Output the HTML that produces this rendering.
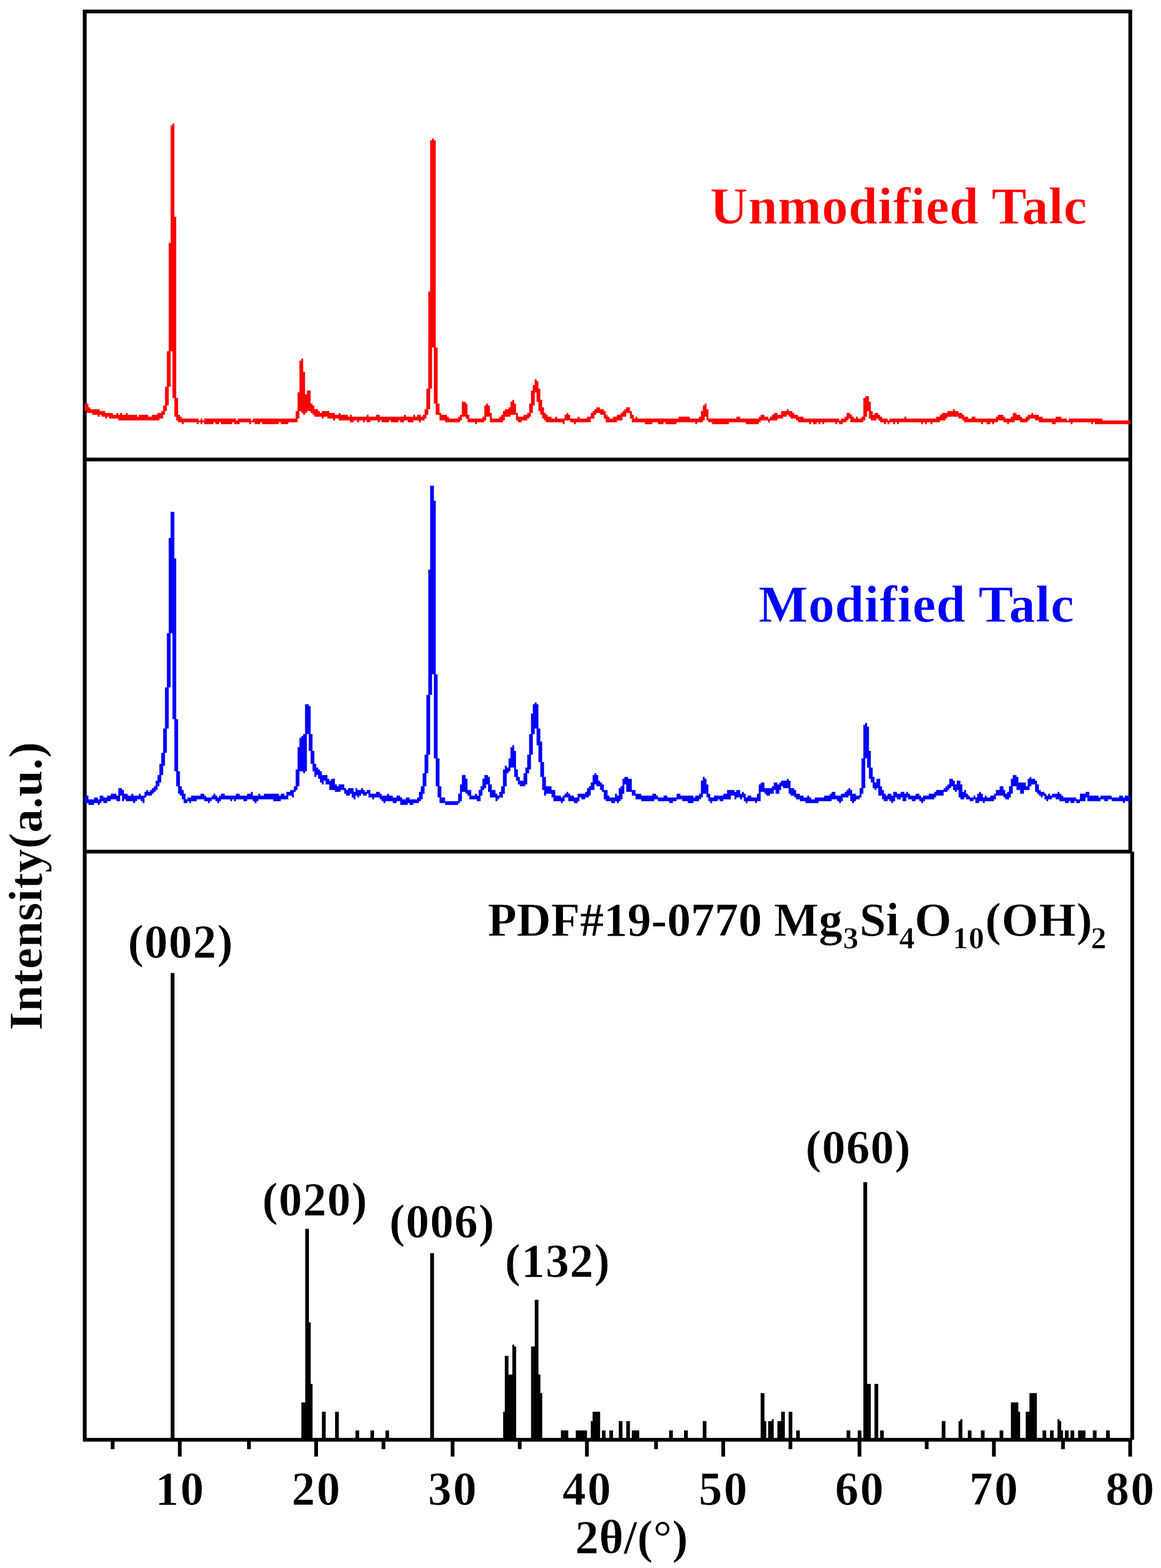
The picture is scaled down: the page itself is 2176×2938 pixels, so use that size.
<!DOCTYPE html>
<html><head><meta charset="utf-8"><title>XRD patterns of talc</title>
<style>
html,body{margin:0;padding:0;background:#fff}
svg{display:block}
text{font-family:"Liberation Serif",serif;font-weight:bold;stroke:#fff;stroke-width:0.7px;stroke-linejoin:round}
</style></head>
<body>
<svg width="2176" height="2938" viewBox="0 0 2176 2938">
<rect width="2176" height="2938" fill="#fff"/>
<path d="M155.26 17.98H2122V24.98H155.26ZM155.26 17.98H162.45V2701.33H155.26ZM2114.9 17.98H2122V1599.3H2114.9ZM155.26 857.62H2122V864.62H155.26ZM155.26 1592.31H2122V1599.3H155.26ZM2118.6 1595.8H2125.6V2697.83H2118.6ZM155.26 2694.33H2122V2701.33H155.26ZM207.6 2697.83H214.6V2715.32H207.6ZM333.5 2697.83H340.5V2729.32H333.5ZM463.1 2697.83H470.1V2715.32H463.1ZM589 2697.83H596V2729.32H589ZM715.2 2697.83H722.2V2715.32H715.2ZM844.7 2697.83H851.7V2729.32H844.7ZM970.6 2697.83H977.6V2715.32H970.6ZM1096.5 2697.83H1103.5V2729.32H1096.5ZM1226.1 2697.83H1233.1V2715.32H1226.1ZM1352 2697.83H1359V2729.32H1352ZM1477.9 2697.83H1484.9V2715.32H1477.9ZM1607.4 2697.83H1614.4V2729.32H1607.4ZM1733.4 2697.83H1740.4V2715.32H1733.4ZM1859.3 2697.83H1866.3V2729.32H1859.3ZM1988.8 2697.83H1995.8V2715.32H1988.8ZM2114.7 2697.83H2121.7V2729.32H2114.7Z" fill="#000"/>
<path d="M319.85 1823.21H326.95V2695.33H319.85ZM564.85 2627.86H572.25V2695.33H564.85ZM572.15 2302.5H578.95V2695.33H572.15ZM578.85 2477.43H582.35V2695.33H578.85ZM582.25 2592.88H585.75V2695.33H582.25ZM603.35 2645.35H610.45V2695.33H603.35ZM628.05 2645.35H634.95V2695.33H628.05ZM666.25 2680.34H673.15V2695.33H666.25ZM694.35 2680.34H701.05V2695.33H694.35ZM722.45 2680.34H729.15V2695.33H722.45ZM806.25 2347.98H813.35V2695.33H806.25ZM943.05 2645.35H946.25V2695.33H943.05ZM946.15 2540.4H953.05V2695.33H946.15ZM952.95 2575.38H960.35V2695.33H952.95ZM960.25 2519.41H963.75V2695.33H960.25ZM963.65 2522.91H967.35V2695.33H963.65ZM995.35 2522.91H1002.45V2695.33H995.35ZM1002.35 2435.44H1009.25V2695.33H1002.35ZM1009.15 2575.38H1012.85V2695.33H1009.15ZM1012.75 2610.37H1016.25V2695.33H1012.75ZM1051.25 2680.34H1065.15V2695.33H1051.25ZM1079.15 2680.34H1100.25V2695.33H1079.15ZM1107.25 2662.85H1110.75V2695.33H1107.25ZM1110.65 2645.35H1124.75V2695.33H1110.65ZM1128.25 2680.34H1134.95V2695.33H1128.25ZM1142.05 2680.34H1148.95V2695.33H1142.05ZM1159.75 2662.85H1166.65V2695.33H1159.75ZM1173.75 2662.85H1180.65V2695.33H1173.75ZM1184.25 2680.34H1198.15V2695.33H1184.25ZM1254.15 2680.34H1261.05V2695.33H1254.15ZM1282.05 2680.34H1289.15V2695.33H1282.05ZM1317.15 2662.85H1324.05V2695.33H1317.15ZM1425.65 2610.37H1432.75V2695.33H1425.65ZM1432.65 2662.85H1436.15V2695.33H1432.65ZM1439.65 2662.85H1446.75V2695.33H1439.65ZM1446.65 2659.35H1450.15V2695.33H1446.65ZM1457.05 2662.85H1464.25V2695.33H1457.05ZM1464.15 2645.35H1470.95V2695.33H1464.15ZM1478.15 2645.35H1485.05V2695.33H1478.15ZM1492.25 2680.34H1499.05V2695.33H1492.25ZM1586.65 2680.34H1593.55V2695.33H1586.65ZM1607.65 2680.34H1614.55V2695.33H1607.65ZM1618.15 2215.04H1625.25V2695.33H1618.15ZM1625.15 2592.88H1632.05V2695.33H1625.15ZM1638.95 2592.88H1646.05V2695.33H1638.95ZM1649.55 2680.34H1656.45V2695.33H1649.55ZM1765.05 2662.85H1771.95V2695.33H1765.05ZM1796.55 2662.85H1800.05V2695.33H1796.55ZM1799.95 2659.35H1803.65V2695.33H1799.95ZM1813.95 2680.34H1820.85V2695.33H1813.95ZM1838.45 2680.34H1845.35V2695.33H1838.45ZM1873.55 2680.34H1880.45V2695.33H1873.55ZM1894.65 2627.86H1908.55V2695.33H1894.65ZM1908.45 2645.35H1911.95V2695.33H1908.45ZM1922.45 2645.35H1929.55V2695.33H1922.45ZM1929.45 2610.37H1943.35V2695.33H1929.45ZM1953.95 2680.34H1960.85V2695.33H1953.95ZM1967.95 2680.34H1974.85V2695.33H1967.95ZM1982.05 2659.35H1985.75V2695.33H1982.05ZM1985.65 2662.85H1988.95V2695.33H1985.65ZM1988.85 2680.34H1992.35V2695.33H1988.85ZM1995.85 2680.34H2002.75V2695.33H1995.85ZM2006.45 2680.34H2013.35V2695.33H2006.45ZM2020.55 2680.34H2034.45V2695.33H2020.55ZM2048.35 2680.34H2055.25V2695.33H2048.35ZM2073.05 2680.34H2079.95V2695.33H2073.05Z" fill="#000"/>
<path d="M158.76 756.16H162.26V770.16H158.76ZM162.26 756.16H165.76V773.66H162.26ZM165.76 763.16H169.26V773.66H165.76ZM169.26 766.66H172.76V773.66H169.26ZM172.76 766.66H183.26V777.15H172.76ZM183.26 766.66H186.76V780.65H183.26ZM186.76 770.16H190.26V777.15H186.76ZM190.26 770.16H197.26V780.65H190.26ZM197.26 773.66H200.76V784.15H197.26ZM200.76 773.66H204.26V780.65H200.76ZM204.26 773.66H211.26V784.15H204.26ZM211.26 777.15H218.25V784.15H211.26ZM218.25 773.66H221.75V784.15H218.25ZM221.75 777.15H225.25V787.65H221.75ZM225.25 773.66H228.75V787.65H225.25ZM228.75 777.15H235.75V787.65H228.75ZM235.75 773.66H239.25V787.65H235.75ZM239.25 777.15H256.75V787.65H239.25ZM256.75 780.65H260.25V787.65H256.75ZM260.25 777.15H277.75V787.65H260.25ZM277.75 780.65H284.75V787.65H277.75ZM284.75 777.15H295.25V787.65H284.75ZM295.25 773.66H298.75V787.65H295.25ZM298.75 773.66H302.25V784.15H298.75ZM302.25 770.16H305.75V784.15H302.25ZM305.75 759.66H309.25V777.15H305.75ZM309.25 724.68H312.75V770.16H309.25ZM312.75 658.21H316.25V759.66H312.75ZM316.25 455.29H319.75V724.68H316.25ZM319.75 234.89H323.25V658.21H319.75ZM323.25 231.39H326.75V745.67H323.25ZM326.75 406.31H330.25V780.65H326.75ZM330.25 745.67H333.74V787.65H330.25ZM333.74 777.15H337.24V791.15H333.74ZM337.24 780.65H340.74V791.15H337.24ZM340.74 784.15H344.24V794.65H340.74ZM344.24 784.15H368.74V791.15H344.24ZM368.74 784.15H372.24V794.65H368.74ZM372.24 787.65H375.74V791.15H372.24ZM375.74 784.15H379.24V794.65H375.74ZM379.24 787.65H382.74V791.15H379.24ZM382.74 784.15H400.24V794.65H382.74ZM400.24 784.15H403.74V791.15H400.24ZM403.74 784.15H410.74V794.65H403.74ZM410.74 784.15H414.24V791.15H410.74ZM414.24 784.15H435.24V794.65H414.24ZM435.24 784.15H438.74V791.15H435.24ZM438.74 784.15H442.24V794.65H438.74ZM442.24 787.65H445.74V794.65H442.24ZM445.74 784.15H449.23V794.65H445.74ZM449.23 784.15H466.73V791.15H449.23ZM466.73 784.15H470.23V794.65H466.73ZM470.23 787.65H473.73V791.15H470.23ZM473.73 784.15H477.23V791.15H473.73ZM477.23 784.15H487.73V794.65H477.23ZM487.73 784.15H491.23V791.15H487.73ZM491.23 784.15H522.73V794.65H491.23ZM522.73 784.15H526.23V791.15H522.73ZM526.23 784.15H540.23V794.65H526.23ZM540.23 784.15H554.23V791.15H540.23ZM554.23 770.16H557.73V791.15H554.23ZM557.73 735.17H561.23V784.15H557.73ZM561.23 675.7H564.72V770.16H561.23ZM564.72 672.2H568.22V773.66H564.72ZM568.22 696.69H571.72V777.15H568.22ZM571.72 738.67H575.22V773.66H571.72ZM575.22 731.67H582.22V770.16H575.22ZM582.22 756.16H585.72V773.66H582.22ZM585.72 759.66H589.22V777.15H585.72ZM589.22 766.66H596.22V780.65H589.22ZM596.22 770.16H599.72V780.65H596.22ZM599.72 773.66H603.22V780.65H599.72ZM603.22 770.16H606.72V784.15H603.22ZM606.72 770.16H613.72V780.65H606.72ZM613.72 770.16H617.22V784.15H613.72ZM617.22 773.66H624.22V784.15H617.22ZM624.22 773.66H627.72V787.65H624.22ZM627.72 777.15H634.72V784.15H627.72ZM634.72 773.66H638.22V787.65H634.72ZM638.22 777.15H652.22V787.65H638.22ZM652.22 780.65H655.72V787.65H652.22ZM655.72 777.15H659.22V791.15H655.72ZM659.22 780.65H662.72V791.15H659.22ZM662.72 780.65H669.72V787.65H662.72ZM669.72 780.65H673.22V791.15H669.72ZM673.22 780.65H680.21V787.65H673.22ZM680.21 780.65H683.71V791.15H680.21ZM683.71 780.65H687.21V787.65H683.71ZM687.21 777.15H690.71V791.15H687.21ZM690.71 780.65H694.21V791.15H690.71ZM694.21 780.65H704.71V787.65H694.21ZM704.71 777.15H708.21V787.65H704.71ZM708.21 777.15H711.71V791.15H708.21ZM711.71 780.65H715.21V787.65H711.71ZM715.21 780.65H729.21V791.15H715.21ZM729.21 780.65H732.71V787.65H729.21ZM732.71 780.65H746.71V791.15H732.71ZM746.71 780.65H750.21V787.65H746.71ZM750.21 780.65H757.21V791.15H750.21ZM757.21 777.15H760.71V787.65H757.21ZM760.71 780.65H764.21V787.65H760.71ZM764.21 780.65H774.71V791.15H764.21ZM774.71 777.15H778.21V787.65H774.71ZM778.21 780.65H781.71V787.65H778.21ZM781.71 777.15H785.21V787.65H781.71ZM785.21 777.15H788.71V791.15H785.21ZM788.71 780.65H792.21V787.65H788.71ZM792.21 777.15H795.71V787.65H792.21ZM795.71 766.66H799.2V784.15H795.71ZM799.2 728.18H802.7V777.15H799.2ZM802.7 546.25H806.2V766.66H802.7ZM806.2 262.88H809.7V728.18H806.2ZM809.7 259.38H813.2V651.21H809.7ZM813.2 262.88H816.7V756.16H813.2ZM816.7 651.21H820.2V777.15H816.7ZM820.2 756.16H823.7V777.15H820.2ZM823.7 773.66H827.2V787.65H823.7ZM827.2 777.15H834.2V787.65H827.2ZM834.2 777.15H837.7V791.15H834.2ZM837.7 780.65H841.2V791.15H837.7ZM841.2 784.15H858.7V791.15H841.2ZM858.7 780.65H862.2V791.15H858.7ZM862.2 777.15H865.7V787.65H862.2ZM865.7 752.66H872.7V780.65H865.7ZM872.7 756.16H876.2V784.15H872.7ZM876.2 777.15H879.7V791.15H876.2ZM879.7 784.15H890.2V791.15H879.7ZM890.2 784.15H893.7V794.65H890.2ZM893.7 784.15H904.2V791.15H893.7ZM904.2 780.65H907.7V791.15H904.2ZM907.7 759.66H911.2V787.65H907.7ZM911.2 756.16H914.69V780.65H911.2ZM914.69 759.66H918.19V780.65H914.69ZM918.19 773.66H921.69V791.15H918.19ZM921.69 784.15H935.69V791.15H921.69ZM935.69 780.65H939.19V791.15H935.69ZM939.19 777.15H942.69V791.15H939.19ZM942.69 770.16H946.19V787.65H942.69ZM946.19 766.66H953.19V780.65H946.19ZM953.19 763.16H956.69V780.65H953.19ZM956.69 752.66H960.19V777.15H956.69ZM960.19 749.17H963.69V777.15H960.19ZM963.69 756.16H967.19V777.15H963.69ZM967.19 773.66H970.69V787.65H967.19ZM970.69 780.65H977.69V791.15H970.69ZM977.69 780.65H981.19V787.65H977.69ZM981.19 777.15H988.19V787.65H981.19ZM988.19 773.66H991.69V784.15H988.19ZM991.69 756.16H995.19V780.65H991.69ZM995.19 731.67H998.69V773.66H995.19ZM998.69 721.18H1002.19V759.66H998.69ZM1002.19 710.68H1005.69V735.17H1002.19ZM1005.69 714.18H1009.19V752.66H1005.69ZM1009.19 728.18H1012.69V770.16H1009.19ZM1012.69 749.17H1016.19V777.15H1012.69ZM1016.19 763.16H1019.69V784.15H1016.19ZM1019.69 773.66H1023.19V787.65H1019.69ZM1023.19 777.15H1026.69V791.15H1023.19ZM1026.69 780.65H1033.68V791.15H1026.69ZM1033.68 784.15H1040.68V791.15H1033.68ZM1040.68 780.65H1044.18V791.15H1040.68ZM1044.18 784.15H1054.68V791.15H1044.18ZM1054.68 784.15H1058.18V794.65H1054.68ZM1058.18 777.15H1061.68V787.65H1058.18ZM1061.68 773.66H1065.18V787.65H1061.68ZM1065.18 777.15H1068.68V787.65H1065.18ZM1068.68 784.15H1075.68V791.15H1068.68ZM1075.68 784.15H1079.18V794.65H1075.68ZM1079.18 784.15H1082.68V791.15H1079.18ZM1082.68 780.65H1086.18V791.15H1082.68ZM1086.18 784.15H1100.18V791.15H1086.18ZM1100.18 780.65H1107.18V791.15H1100.18ZM1107.18 773.66H1110.68V784.15H1107.18ZM1110.68 770.16H1114.18V784.15H1110.68ZM1114.18 766.66H1117.68V777.15H1114.18ZM1117.68 763.16H1124.68V773.66H1117.68ZM1124.68 766.66H1131.68V777.15H1124.68ZM1131.68 770.16H1135.18V784.15H1131.68ZM1135.18 777.15H1138.68V791.15H1135.18ZM1138.68 780.65H1142.18V791.15H1138.68ZM1142.18 784.15H1149.17V791.15H1142.18ZM1149.17 780.65H1156.17V791.15H1149.17ZM1156.17 777.15H1163.17V787.65H1156.17ZM1163.17 773.66H1166.67V787.65H1163.17ZM1166.67 770.16H1170.17V780.65H1166.67ZM1170.17 766.66H1173.67V780.65H1170.17ZM1173.67 763.16H1180.67V773.66H1173.67ZM1180.67 770.16H1184.17V784.15H1180.67ZM1184.17 777.15H1187.67V791.15H1184.17ZM1187.67 784.15H1191.17V791.15H1187.67ZM1191.17 780.65H1194.67V791.15H1191.17ZM1194.67 784.15H1208.67V791.15H1194.67ZM1208.67 784.15H1222.67V794.65H1208.67ZM1222.67 784.15H1233.17V791.15H1222.67ZM1233.17 784.15H1243.67V794.65H1233.17ZM1243.67 784.15H1247.17V791.15H1243.67ZM1247.17 784.15H1268.16V794.65H1247.17ZM1268.16 784.15H1271.66V791.15H1268.16ZM1271.66 780.65H1292.66V791.15H1271.66ZM1292.66 784.15H1303.16V791.15H1292.66ZM1303.16 784.15H1306.66V794.65H1303.16ZM1306.66 784.15H1310.16V791.15H1306.66ZM1310.16 780.65H1313.66V791.15H1310.16ZM1313.66 770.16H1317.16V791.15H1313.66ZM1317.16 759.66H1320.66V787.65H1317.16ZM1320.66 756.16H1324.16V780.65H1320.66ZM1324.16 766.66H1327.66V787.65H1324.16ZM1327.66 784.15H1334.66V791.15H1327.66ZM1334.66 784.15H1366.16V794.65H1334.66ZM1366.16 784.15H1380.15V791.15H1366.16ZM1380.15 780.65H1387.15V791.15H1380.15ZM1387.15 784.15H1397.65V791.15H1387.15ZM1397.65 784.15H1422.15V794.65H1397.65ZM1422.15 780.65H1425.65V791.15H1422.15ZM1425.65 777.15H1432.65V787.65H1425.65ZM1432.65 780.65H1439.65V787.65H1432.65ZM1439.65 784.15H1443.15V791.15H1439.65ZM1443.15 780.65H1446.65V787.65H1443.15ZM1446.65 777.15H1450.15V787.65H1446.65ZM1450.15 773.66H1457.15V787.65H1450.15ZM1457.15 777.15H1464.15V784.15H1457.15ZM1464.15 770.16H1467.65V784.15H1464.15ZM1467.65 770.16H1474.65V780.65H1467.65ZM1474.65 766.66H1478.15V777.15H1474.65ZM1478.15 770.16H1481.65V780.65H1478.15ZM1481.65 770.16H1485.15V784.15H1481.65ZM1485.15 773.66H1488.65V784.15H1485.15ZM1488.65 777.15H1492.15V784.15H1488.65ZM1492.15 777.15H1495.65V787.65H1492.15ZM1495.65 780.65H1506.14V791.15H1495.65ZM1506.14 784.15H1516.64V791.15H1506.14ZM1516.64 784.15H1520.14V794.65H1516.64ZM1520.14 784.15H1523.64V791.15H1520.14ZM1523.64 784.15H1530.64V794.65H1523.64ZM1530.64 784.15H1534.14V791.15H1530.64ZM1534.14 784.15H1537.64V794.65H1534.14ZM1537.64 784.15H1541.14V791.15H1537.64ZM1541.14 784.15H1544.64V794.65H1541.14ZM1544.64 784.15H1565.64V791.15H1544.64ZM1565.64 784.15H1569.14V794.65H1565.64ZM1569.14 784.15H1572.64V791.15H1569.14ZM1572.64 787.65H1576.14V794.65H1572.64ZM1576.14 784.15H1579.64V794.65H1576.14ZM1579.64 784.15H1583.14V791.15H1579.64ZM1583.14 780.65H1586.64V791.15H1583.14ZM1586.64 773.66H1590.14V787.65H1586.64ZM1590.14 773.66H1593.64V784.15H1590.14ZM1593.64 777.15H1597.14V791.15H1593.64ZM1597.14 780.65H1600.64V791.15H1597.14ZM1600.64 784.15H1604.14V791.15H1600.64ZM1604.14 780.65H1607.64V791.15H1604.14ZM1607.64 784.15H1614.63V791.15H1607.64ZM1614.63 780.65H1618.13V791.15H1614.63ZM1618.13 745.67H1621.63V787.65H1618.13ZM1621.63 742.17H1625.13V780.65H1621.63ZM1625.13 742.17H1628.63V770.16H1625.13ZM1628.63 752.66H1632.13V784.15H1628.63ZM1632.13 770.16H1635.63V787.65H1632.13ZM1635.63 777.15H1639.13V787.65H1635.63ZM1639.13 773.66H1642.63V787.65H1639.13ZM1642.63 773.66H1646.13V784.15H1642.63ZM1646.13 777.15H1649.63V787.65H1646.13ZM1649.63 780.65H1653.13V791.15H1649.63ZM1653.13 784.15H1656.63V791.15H1653.13ZM1656.63 784.15H1660.13V794.65H1656.63ZM1660.13 784.15H1663.63V791.15H1660.13ZM1663.63 787.65H1667.13V794.65H1663.63ZM1667.13 784.15H1674.13V791.15H1667.13ZM1674.13 784.15H1677.63V794.65H1674.13ZM1677.63 784.15H1681.13V791.15H1677.63ZM1681.13 784.15H1684.63V794.65H1681.13ZM1684.63 784.15H1695.13V791.15H1684.63ZM1695.13 780.65H1698.63V791.15H1695.13ZM1698.63 784.15H1726.63V791.15H1698.63ZM1726.63 784.15H1730.12V794.65H1726.63ZM1730.12 784.15H1733.62V791.15H1730.12ZM1733.62 784.15H1737.12V794.65H1733.62ZM1737.12 784.15H1744.12V791.15H1737.12ZM1744.12 784.15H1747.62V794.65H1744.12ZM1747.62 784.15H1754.62V791.15H1747.62ZM1754.62 780.65H1761.62V791.15H1754.62ZM1761.62 777.15H1765.12V787.65H1761.62ZM1765.12 773.66H1772.12V787.65H1765.12ZM1772.12 773.66H1775.62V784.15H1772.12ZM1775.62 770.16H1786.12V780.65H1775.62ZM1786.12 766.66H1789.62V780.65H1786.12ZM1789.62 770.16H1796.62V780.65H1789.62ZM1796.62 773.66H1803.62V784.15H1796.62ZM1803.62 777.15H1807.12V787.65H1803.62ZM1807.12 780.65H1814.12V791.15H1807.12ZM1814.12 784.15H1821.12V791.15H1814.12ZM1821.12 780.65H1828.12V791.15H1821.12ZM1828.12 784.15H1838.62V791.15H1828.12ZM1838.62 784.15H1842.12V794.65H1838.62ZM1842.12 784.15H1849.11V791.15H1842.12ZM1849.11 784.15H1856.11V794.65H1849.11ZM1856.11 784.15H1859.61V791.15H1856.11ZM1859.61 784.15H1863.11V794.65H1859.61ZM1863.11 784.15H1866.61V791.15H1863.11ZM1866.61 780.65H1870.11V791.15H1866.61ZM1870.11 777.15H1880.61V787.65H1870.11ZM1880.61 780.65H1884.11V791.15H1880.61ZM1884.11 784.15H1887.61V791.15H1884.11ZM1887.61 784.15H1891.11V794.65H1887.61ZM1891.11 784.15H1894.61V791.15H1891.11ZM1894.61 780.65H1898.11V791.15H1894.61ZM1898.11 773.66H1901.61V791.15H1898.11ZM1901.61 773.66H1905.11V787.65H1901.61ZM1905.11 777.15H1912.11V787.65H1905.11ZM1912.11 780.65H1915.61V791.15H1912.11ZM1915.61 784.15H1922.61V791.15H1915.61ZM1922.61 780.65H1926.11V791.15H1922.61ZM1926.11 777.15H1929.61V787.65H1926.11ZM1929.61 777.15H1933.11V784.15H1929.61ZM1933.11 773.66H1936.61V784.15H1933.11ZM1936.61 777.15H1940.11V784.15H1936.61ZM1940.11 777.15H1947.11V787.65H1940.11ZM1947.11 780.65H1954.11V791.15H1947.11ZM1954.11 784.15H1971.6V791.15H1954.11ZM1971.6 784.15H1978.6V794.65H1971.6ZM1978.6 780.65H1989.1V791.15H1978.6ZM1989.1 784.15H1999.6V791.15H1989.1ZM1999.6 787.65H2003.1V791.15H1999.6ZM2003.1 784.15H2006.6V791.15H2003.1ZM2006.6 784.15H2010.1V794.65H2006.6ZM2010.1 784.15H2045.1V791.15H2010.1ZM2045.1 784.15H2048.6V794.65H2045.1ZM2048.6 784.15H2052.1V791.15H2048.6ZM2052.1 784.15H2066.1V794.65H2052.1ZM2066.1 787.65H2118.59V794.65H2066.1Z" fill="#ff0000"/>
<path d="M158.76 1490.85H165.76V1504.84H158.76ZM165.76 1497.85H176.26V1508.34H165.76ZM176.26 1494.35H183.26V1504.84H176.26ZM183.26 1497.85H186.76V1508.34H183.26ZM186.76 1490.85H190.26V1504.84H186.76ZM190.26 1490.85H193.76V1501.34H190.26ZM193.76 1494.35H200.76V1504.84H193.76ZM200.76 1490.85H207.76V1501.34H200.76ZM207.76 1487.35H218.25V1497.85H207.76ZM218.25 1490.85H221.75V1501.34H218.25ZM221.75 1476.85H225.25V1501.34H221.75ZM225.25 1476.85H228.75V1490.85H225.25ZM228.75 1480.35H232.25V1501.34H228.75ZM232.25 1487.35H235.75V1497.85H232.25ZM235.75 1487.35H239.25V1501.34H235.75ZM239.25 1490.85H246.25V1501.34H239.25ZM246.25 1487.35H249.75V1501.34H246.25ZM249.75 1490.85H253.25V1504.84H249.75ZM253.25 1490.85H256.75V1501.34H253.25ZM256.75 1490.85H260.25V1497.85H256.75ZM260.25 1487.35H263.75V1497.85H260.25ZM263.75 1490.85H267.25V1501.34H263.75ZM267.25 1490.85H270.75V1504.84H267.25ZM270.75 1483.85H274.25V1494.35H270.75ZM274.25 1480.35H277.75V1490.85H274.25ZM277.75 1483.85H281.25V1490.85H277.75ZM281.25 1480.35H284.75V1490.85H281.25ZM284.75 1476.85H288.25V1487.35H284.75ZM288.25 1473.36H291.75V1483.85H288.25ZM291.75 1462.86H295.25V1480.35H291.75ZM295.25 1452.37H298.75V1473.36H295.25ZM298.75 1431.37H302.25V1466.36H298.75ZM302.25 1410.38H305.75V1452.37H302.25ZM305.75 1364.9H309.25V1434.87H305.75ZM309.25 1287.94H312.75V1410.38H309.25ZM312.75 1186.48H316.25V1364.9H312.75ZM316.25 1008.06H319.75V1287.94H316.25ZM319.75 959.08H323.25V1186.48H319.75ZM323.25 959.08H326.75V1347.41H323.25ZM326.75 1046.54H330.25V1445.37H326.75ZM330.25 1347.41H333.74V1473.36H330.25ZM333.74 1445.37H337.24V1487.35H333.74ZM337.24 1473.36H340.74V1490.85H337.24ZM340.74 1480.35H344.24V1497.85H340.74ZM344.24 1487.35H347.74V1504.84H344.24ZM347.74 1497.85H351.24V1504.84H347.74ZM351.24 1494.35H354.74V1501.34H351.24ZM354.74 1494.35H358.24V1504.84H354.74ZM358.24 1490.85H368.74V1501.34H358.24ZM368.74 1490.85H375.74V1497.85H368.74ZM375.74 1487.35H382.74V1497.85H375.74ZM382.74 1490.85H386.24V1501.34H382.74ZM386.24 1494.35H389.74V1501.34H386.24ZM389.74 1494.35H393.24V1504.84H389.74ZM393.24 1494.35H396.74V1501.34H393.24ZM396.74 1490.85H400.24V1497.85H396.74ZM400.24 1487.35H403.74V1497.85H400.24ZM403.74 1490.85H407.24V1501.34H403.74ZM407.24 1494.35H410.74V1504.84H407.24ZM410.74 1490.85H414.24V1501.34H410.74ZM414.24 1487.35H421.24V1497.85H414.24ZM421.24 1490.85H431.74V1497.85H421.24ZM431.74 1490.85H435.24V1501.34H431.74ZM435.24 1490.85H438.74V1497.85H435.24ZM438.74 1490.85H442.24V1501.34H438.74ZM442.24 1487.35H449.23V1497.85H442.24ZM449.23 1490.85H456.23V1497.85H449.23ZM456.23 1490.85H463.23V1501.34H456.23ZM463.23 1487.35H470.23V1497.85H463.23ZM470.23 1483.85H473.73V1497.85H470.23ZM473.73 1490.85H477.23V1501.34H473.73ZM477.23 1490.85H480.73V1504.84H477.23ZM480.73 1490.85H484.23V1501.34H480.73ZM484.23 1487.35H487.73V1497.85H484.23ZM487.73 1490.85H494.73V1497.85H487.73ZM494.73 1487.35H512.23V1497.85H494.73ZM512.23 1487.35H522.73V1501.34H512.23ZM522.73 1490.85H526.23V1501.34H522.73ZM526.23 1487.35H533.23V1497.85H526.23ZM533.23 1490.85H536.73V1497.85H533.23ZM536.73 1483.85H540.23V1497.85H536.73ZM540.23 1483.85H543.73V1490.85H540.23ZM543.73 1480.35H547.23V1490.85H543.73ZM547.23 1480.35H550.73V1494.35H547.23ZM550.73 1473.36H554.23V1483.85H550.73ZM554.23 1441.87H557.73V1480.35H554.23ZM557.73 1399.89H561.23V1473.36H557.73ZM561.23 1382.39H564.72V1445.37H561.23ZM564.72 1378.9H568.22V1445.37H564.72ZM568.22 1375.4H571.72V1448.87H568.22ZM571.72 1319.42H575.22V1445.37H571.72ZM575.22 1319.42H578.72V1375.4H575.22ZM578.72 1322.92H582.22V1406.88H578.72ZM582.22 1375.4H585.72V1431.37H582.22ZM585.72 1406.88H589.22V1445.37H585.72ZM589.22 1431.37H592.72V1455.86H589.22ZM592.72 1438.37H596.22V1452.37H592.72ZM596.22 1441.87H599.72V1459.36H596.22ZM599.72 1445.37H603.22V1466.36H599.72ZM603.22 1452.37H606.72V1469.86H603.22ZM606.72 1452.37H610.22V1462.86H606.72ZM610.22 1452.37H613.72V1469.86H610.22ZM613.72 1459.36H617.22V1469.86H613.72ZM617.22 1462.86H620.72V1480.35H617.22ZM620.72 1459.36H627.72V1480.35H620.72ZM627.72 1469.86H631.22V1483.85H627.72ZM631.22 1473.36H634.72V1483.85H631.22ZM634.72 1469.86H638.22V1483.85H634.72ZM638.22 1469.86H645.22V1480.35H638.22ZM645.22 1476.85H648.72V1487.35H645.22ZM648.72 1480.35H652.22V1490.85H648.72ZM652.22 1476.85H655.72V1490.85H652.22ZM655.72 1476.85H659.22V1487.35H655.72ZM659.22 1476.85H662.72V1494.35H659.22ZM662.72 1483.85H666.22V1497.85H662.72ZM666.22 1476.85H669.72V1490.85H666.22ZM669.72 1480.35H673.22V1494.35H669.72ZM673.22 1480.35H676.72V1490.85H673.22ZM676.72 1476.85H680.21V1487.35H676.72ZM680.21 1480.35H683.71V1490.85H680.21ZM683.71 1483.85H687.21V1490.85H683.71ZM687.21 1480.35H690.71V1487.35H687.21ZM690.71 1480.35H694.21V1494.35H690.71ZM694.21 1487.35H697.71V1494.35H694.21ZM697.71 1487.35H701.21V1497.85H697.71ZM701.21 1487.35H704.71V1494.35H701.21ZM704.71 1483.85H711.71V1494.35H704.71ZM711.71 1487.35H715.21V1497.85H711.71ZM715.21 1490.85H718.71V1501.34H715.21ZM718.71 1490.85H722.21V1504.84H718.71ZM722.21 1490.85H725.71V1501.34H722.21ZM725.71 1487.35H729.21V1501.34H725.71ZM729.21 1490.85H736.21V1501.34H729.21ZM736.21 1494.35H743.21V1504.84H736.21ZM743.21 1490.85H750.21V1501.34H743.21ZM750.21 1494.35H753.71V1508.34H750.21ZM753.71 1497.85H760.71V1508.34H753.71ZM760.71 1494.35H764.21V1508.34H760.71ZM764.21 1494.35H767.71V1504.84H764.21ZM767.71 1497.85H774.71V1508.34H767.71ZM774.71 1497.85H781.71V1504.84H774.71ZM781.71 1494.35H785.21V1504.84H781.71ZM785.21 1483.85H788.71V1501.34H785.21ZM788.71 1473.36H792.21V1497.85H788.71ZM792.21 1448.87H795.71V1487.35H792.21ZM795.71 1413.88H799.2V1473.36H795.71ZM799.2 1301.93H802.7V1448.87H799.2ZM802.7 1067.53H806.2V1413.88H802.7ZM806.2 910.1H809.7V1301.93H806.2ZM809.7 910.1H813.2V1263.45H809.7ZM813.2 938.09H816.7V1420.88H813.2ZM816.7 1263.45H820.2V1473.36H816.7ZM820.2 1420.88H823.7V1494.35H820.2ZM823.7 1473.36H827.2V1504.84H823.7ZM827.2 1494.35H834.2V1504.84H827.2ZM834.2 1501.34H858.7V1508.34H834.2ZM858.7 1487.35H862.2V1504.84H858.7ZM862.2 1469.86H865.7V1501.34H862.2ZM865.7 1452.37H872.7V1483.85H865.7ZM872.7 1459.36H876.2V1487.35H872.7ZM876.2 1480.35H879.7V1490.85H876.2ZM879.7 1480.35H883.2V1497.85H879.7ZM883.2 1490.85H890.2V1497.85H883.2ZM890.2 1487.35H893.7V1497.85H890.2ZM893.7 1490.85H897.2V1501.34H893.7ZM897.2 1480.35H900.7V1501.34H897.2ZM900.7 1473.36H904.2V1490.85H900.7ZM904.2 1459.36H907.7V1480.35H904.2ZM907.7 1452.37H911.2V1476.85H907.7ZM911.2 1452.37H914.69V1469.86H911.2ZM914.69 1455.86H918.19V1483.85H914.69ZM918.19 1469.86H921.69V1494.35H918.19ZM921.69 1480.35H928.69V1494.35H921.69ZM928.69 1487.35H932.19V1501.34H928.69ZM932.19 1490.85H935.69V1497.85H932.19ZM935.69 1483.85H939.19V1494.35H935.69ZM939.19 1473.36H942.69V1494.35H939.19ZM942.69 1441.87H946.19V1487.35H942.69ZM946.19 1434.87H949.69V1473.36H946.19ZM949.69 1438.37H953.19V1448.87H949.69ZM953.19 1420.88H956.69V1445.37H953.19ZM956.69 1399.89H960.19V1438.37H956.69ZM960.19 1396.39H963.69V1438.37H960.19ZM963.69 1406.88H967.19V1455.86H963.69ZM967.19 1441.87H970.69V1462.86H967.19ZM970.69 1455.86H974.19V1469.86H970.69ZM974.19 1462.86H981.19V1473.36H974.19ZM981.19 1448.87H984.69V1473.36H981.19ZM984.69 1438.37H988.19V1469.86H984.69ZM988.19 1413.88H991.69V1448.87H988.19ZM991.69 1375.4H995.19V1441.87H991.69ZM995.19 1336.91H998.69V1413.88H995.19ZM998.69 1319.42H1002.19V1375.4H998.69ZM1002.19 1315.92H1005.69V1364.9H1002.19ZM1005.69 1319.42H1009.19V1396.39H1005.69ZM1009.19 1364.9H1012.69V1427.88H1009.19ZM1012.69 1389.39H1016.19V1455.86H1012.69ZM1016.19 1427.88H1019.69V1480.35H1016.19ZM1019.69 1455.86H1023.19V1490.85H1019.69ZM1023.19 1473.36H1033.68V1487.35H1023.19ZM1033.68 1480.35H1037.18V1494.35H1033.68ZM1037.18 1480.35H1040.68V1501.34H1037.18ZM1040.68 1490.85H1051.18V1501.34H1040.68ZM1051.18 1494.35H1054.68V1504.84H1051.18ZM1054.68 1490.85H1058.18V1501.34H1054.68ZM1058.18 1487.35H1061.68V1494.35H1058.18ZM1061.68 1483.85H1065.18V1494.35H1061.68ZM1065.18 1487.35H1068.68V1501.34H1065.18ZM1068.68 1490.85H1075.68V1501.34H1068.68ZM1075.68 1494.35H1082.68V1504.84H1075.68ZM1082.68 1487.35H1086.18V1501.34H1082.68ZM1086.18 1487.35H1089.68V1494.35H1086.18ZM1089.68 1487.35H1096.68V1497.85H1089.68ZM1096.68 1483.85H1100.18V1494.35H1096.68ZM1100.18 1476.85H1103.68V1494.35H1100.18ZM1103.68 1473.36H1107.18V1490.85H1103.68ZM1107.18 1466.36H1110.68V1480.35H1107.18ZM1110.68 1452.37H1114.18V1480.35H1110.68ZM1114.18 1448.87H1117.68V1469.86H1114.18ZM1117.68 1452.37H1121.18V1473.36H1117.68ZM1121.18 1462.86H1124.68V1473.36H1121.18ZM1124.68 1466.36H1128.18V1480.35H1124.68ZM1128.18 1469.86H1131.68V1483.85H1128.18ZM1131.68 1480.35H1135.18V1497.85H1131.68ZM1135.18 1480.35H1138.68V1501.34H1135.18ZM1138.68 1490.85H1142.18V1501.34H1138.68ZM1142.18 1494.35H1145.68V1501.34H1142.18ZM1145.68 1494.35H1152.67V1504.84H1145.68ZM1152.67 1487.35H1156.17V1501.34H1152.67ZM1156.17 1490.85H1159.67V1504.84H1156.17ZM1159.67 1476.85H1163.17V1501.34H1159.67ZM1163.17 1473.36H1166.67V1497.85H1163.17ZM1166.67 1459.36H1170.17V1487.35H1166.67ZM1170.17 1455.86H1173.67V1469.86H1170.17ZM1173.67 1455.86H1177.17V1483.85H1173.67ZM1177.17 1459.36H1184.17V1483.85H1177.17ZM1184.17 1480.35H1191.17V1490.85H1184.17ZM1191.17 1487.35H1201.67V1497.85H1191.17ZM1201.67 1490.85H1222.67V1501.34H1201.67ZM1222.67 1487.35H1226.17V1501.34H1222.67ZM1226.17 1487.35H1229.67V1497.85H1226.17ZM1229.67 1490.85H1233.17V1497.85H1229.67ZM1233.17 1494.35H1243.67V1501.34H1233.17ZM1243.67 1490.85H1250.67V1501.34H1243.67ZM1250.67 1494.35H1254.17V1501.34H1250.67ZM1254.17 1494.35H1261.17V1504.84H1254.17ZM1261.17 1494.35H1268.16V1501.34H1261.17ZM1268.16 1487.35H1275.16V1497.85H1268.16ZM1275.16 1490.85H1278.66V1497.85H1275.16ZM1278.66 1490.85H1289.16V1501.34H1278.66ZM1289.16 1490.85H1299.66V1504.84H1289.16ZM1299.66 1494.35H1303.16V1501.34H1299.66ZM1303.16 1490.85H1310.16V1501.34H1303.16ZM1310.16 1487.35H1313.66V1497.85H1310.16ZM1313.66 1462.86H1317.16V1494.35H1313.66ZM1317.16 1455.86H1320.66V1487.35H1317.16ZM1320.66 1459.36H1324.16V1487.35H1320.66ZM1324.16 1469.86H1327.66V1494.35H1324.16ZM1327.66 1487.35H1331.16V1501.34H1327.66ZM1331.16 1494.35H1334.66V1504.84H1331.16ZM1334.66 1494.35H1338.16V1501.34H1334.66ZM1338.16 1490.85H1345.16V1501.34H1338.16ZM1345.16 1490.85H1348.66V1497.85H1345.16ZM1348.66 1490.85H1355.66V1501.34H1348.66ZM1355.66 1487.35H1362.66V1497.85H1355.66ZM1362.66 1480.35H1369.66V1497.85H1362.66ZM1369.66 1480.35H1376.66V1490.85H1369.66ZM1376.66 1483.85H1380.15V1497.85H1376.66ZM1380.15 1480.35H1387.15V1494.35H1380.15ZM1387.15 1487.35H1390.65V1497.85H1387.15ZM1390.65 1483.85H1394.15V1494.35H1390.65ZM1394.15 1487.35H1397.65V1501.34H1394.15ZM1397.65 1494.35H1401.15V1504.84H1397.65ZM1401.15 1490.85H1408.15V1501.34H1401.15ZM1408.15 1494.35H1415.15V1501.34H1408.15ZM1415.15 1494.35H1418.65V1504.84H1415.15ZM1418.65 1487.35H1422.15V1501.34H1418.65ZM1422.15 1469.86H1425.65V1501.34H1422.15ZM1425.65 1466.36H1432.65V1483.85H1425.65ZM1432.65 1476.85H1436.15V1487.35H1432.65ZM1436.15 1476.85H1443.15V1490.85H1436.15ZM1443.15 1476.85H1446.65V1487.35H1443.15ZM1446.65 1473.36H1450.15V1487.35H1446.65ZM1450.15 1466.36H1453.65V1480.35H1450.15ZM1453.65 1466.36H1457.15V1487.35H1453.65ZM1457.15 1469.86H1460.65V1487.35H1457.15ZM1460.65 1466.36H1464.15V1480.35H1460.65ZM1464.15 1462.86H1467.65V1473.36H1464.15ZM1467.65 1462.86H1474.65V1476.85H1467.65ZM1474.65 1459.36H1478.15V1476.85H1474.65ZM1478.15 1462.86H1481.65V1487.35H1478.15ZM1481.65 1476.85H1488.65V1490.85H1481.65ZM1488.65 1480.35H1492.15V1494.35H1488.65ZM1492.15 1487.35H1499.14V1497.85H1492.15ZM1499.14 1490.85H1506.14V1501.34H1499.14ZM1506.14 1494.35H1509.64V1501.34H1506.14ZM1509.64 1494.35H1513.14V1504.84H1509.64ZM1513.14 1490.85H1516.64V1504.84H1513.14ZM1516.64 1494.35H1520.14V1504.84H1516.64ZM1520.14 1497.85H1527.14V1504.84H1520.14ZM1527.14 1494.35H1534.14V1504.84H1527.14ZM1534.14 1494.35H1544.64V1501.34H1534.14ZM1544.64 1490.85H1555.14V1501.34H1544.64ZM1555.14 1487.35H1558.64V1501.34H1555.14ZM1558.64 1483.85H1565.64V1497.85H1558.64ZM1565.64 1490.85H1569.14V1497.85H1565.64ZM1569.14 1490.85H1572.64V1501.34H1569.14ZM1572.64 1490.85H1576.14V1504.84H1572.64ZM1576.14 1487.35H1579.64V1501.34H1576.14ZM1579.64 1487.35H1583.14V1494.35H1579.64ZM1583.14 1483.85H1586.64V1494.35H1583.14ZM1586.64 1480.35H1590.14V1494.35H1586.64ZM1590.14 1476.85H1593.64V1490.85H1590.14ZM1593.64 1480.35H1597.14V1501.34H1593.64ZM1597.14 1487.35H1600.64V1504.84H1597.14ZM1600.64 1487.35H1604.14V1501.34H1600.64ZM1604.14 1490.85H1611.14V1497.85H1604.14ZM1611.14 1476.85H1614.63V1494.35H1611.14ZM1614.63 1420.88H1618.13V1487.35H1614.63ZM1618.13 1357.91H1621.63V1476.85H1618.13ZM1621.63 1354.41H1625.13V1420.88H1621.63ZM1625.13 1361.4H1628.63V1438.37H1625.13ZM1628.63 1406.88H1632.13V1459.36H1628.63ZM1632.13 1438.37H1635.63V1466.36H1632.13ZM1635.63 1455.86H1639.13V1476.85H1635.63ZM1639.13 1466.36H1642.63V1480.35H1639.13ZM1642.63 1459.36H1646.13V1476.85H1642.63ZM1646.13 1459.36H1649.63V1490.85H1646.13ZM1649.63 1473.36H1653.13V1490.85H1649.63ZM1653.13 1480.35H1656.63V1497.85H1653.13ZM1656.63 1487.35H1660.13V1501.34H1656.63ZM1660.13 1490.85H1663.63V1501.34H1660.13ZM1663.63 1487.35H1667.13V1497.85H1663.63ZM1667.13 1487.35H1670.63V1501.34H1667.13ZM1670.63 1490.85H1674.13V1504.84H1670.63ZM1674.13 1483.85H1677.63V1501.34H1674.13ZM1677.63 1483.85H1681.13V1494.35H1677.63ZM1681.13 1487.35H1688.13V1497.85H1681.13ZM1688.13 1483.85H1691.63V1494.35H1688.13ZM1691.63 1483.85H1695.13V1501.34H1691.63ZM1695.13 1487.35H1698.63V1501.34H1695.13ZM1698.63 1483.85H1702.13V1494.35H1698.63ZM1702.13 1487.35H1705.63V1497.85H1702.13ZM1705.63 1490.85H1709.13V1497.85H1705.63ZM1709.13 1490.85H1716.13V1501.34H1709.13ZM1716.13 1487.35H1723.13V1497.85H1716.13ZM1723.13 1490.85H1726.63V1501.34H1723.13ZM1726.63 1494.35H1730.12V1504.84H1726.63ZM1730.12 1490.85H1733.62V1501.34H1730.12ZM1733.62 1490.85H1740.62V1497.85H1733.62ZM1740.62 1487.35H1751.12V1497.85H1740.62ZM1751.12 1483.85H1754.62V1494.35H1751.12ZM1754.62 1480.35H1768.62V1490.85H1754.62ZM1768.62 1476.85H1772.12V1483.85H1768.62ZM1772.12 1473.36H1775.62V1483.85H1772.12ZM1775.62 1469.86H1779.12V1480.35H1775.62ZM1779.12 1459.36H1782.62V1476.85H1779.12ZM1782.62 1459.36H1786.12V1473.36H1782.62ZM1786.12 1462.86H1789.62V1480.35H1786.12ZM1789.62 1469.86H1793.12V1483.85H1789.62ZM1793.12 1462.86H1796.62V1480.35H1793.12ZM1796.62 1462.86H1800.12V1494.35H1796.62ZM1800.12 1469.86H1803.62V1497.85H1800.12ZM1803.62 1483.85H1807.12V1497.85H1803.62ZM1807.12 1480.35H1810.62V1494.35H1807.12ZM1810.62 1487.35H1814.12V1497.85H1810.62ZM1814.12 1490.85H1817.62V1497.85H1814.12ZM1817.62 1494.35H1824.62V1501.34H1817.62ZM1824.62 1490.85H1828.12V1497.85H1824.62ZM1828.12 1494.35H1831.62V1504.84H1828.12ZM1831.62 1487.35H1835.12V1504.84H1831.62ZM1835.12 1483.85H1838.62V1501.34H1835.12ZM1838.62 1487.35H1842.12V1501.34H1838.62ZM1842.12 1494.35H1845.62V1504.84H1842.12ZM1845.62 1490.85H1849.11V1501.34H1845.62ZM1849.11 1494.35H1856.11V1501.34H1849.11ZM1856.11 1490.85H1863.11V1501.34H1856.11ZM1863.11 1487.35H1866.61V1497.85H1863.11ZM1866.61 1480.35H1873.61V1490.85H1866.61ZM1873.61 1473.36H1880.61V1490.85H1873.61ZM1880.61 1480.35H1884.11V1494.35H1880.61ZM1884.11 1487.35H1887.61V1497.85H1884.11ZM1887.61 1483.85H1891.11V1497.85H1887.61ZM1891.11 1473.36H1894.61V1494.35H1891.11ZM1894.61 1459.36H1898.11V1487.35H1894.61ZM1898.11 1452.37H1905.11V1473.36H1898.11ZM1905.11 1455.86H1908.61V1480.35H1905.11ZM1908.61 1466.36H1912.11V1480.35H1908.61ZM1912.11 1466.36H1919.11V1487.35H1912.11ZM1919.11 1466.36H1922.61V1480.35H1919.11ZM1922.61 1473.36H1926.11V1480.35H1922.61ZM1926.11 1459.36H1929.61V1480.35H1926.11ZM1929.61 1455.86H1933.11V1473.36H1929.61ZM1933.11 1459.36H1940.11V1469.86H1933.11ZM1940.11 1462.86H1943.61V1483.85H1940.11ZM1943.61 1469.86H1947.11V1487.35H1943.61ZM1947.11 1480.35H1950.61V1490.85H1947.11ZM1950.61 1483.85H1954.11V1494.35H1950.61ZM1954.11 1483.85H1957.61V1490.85H1954.11ZM1957.61 1487.35H1961.11V1497.85H1957.61ZM1961.11 1490.85H1964.6V1501.34H1961.11ZM1964.6 1487.35H1968.1V1497.85H1964.6ZM1968.1 1490.85H1971.6V1497.85H1968.1ZM1971.6 1487.35H1978.6V1494.35H1971.6ZM1978.6 1487.35H1982.1V1497.85H1978.6ZM1982.1 1483.85H1985.6V1497.85H1982.1ZM1985.6 1487.35H1989.1V1501.34H1985.6ZM1989.1 1490.85H1992.6V1501.34H1989.1ZM1992.6 1494.35H1996.1V1501.34H1992.6ZM1996.1 1494.35H2003.1V1504.84H1996.1ZM2003.1 1494.35H2006.6V1501.34H2003.1ZM2006.6 1494.35H2013.6V1504.84H2006.6ZM2013.6 1494.35H2017.1V1501.34H2013.6ZM2017.1 1497.85H2024.1V1504.84H2017.1ZM2024.1 1487.35H2034.6V1501.34H2024.1ZM2034.6 1483.85H2038.1V1494.35H2034.6ZM2038.1 1483.85H2041.6V1501.34H2038.1ZM2041.6 1490.85H2059.1V1501.34H2041.6ZM2059.1 1494.35H2062.6V1501.34H2059.1ZM2062.6 1490.85H2069.6V1497.85H2062.6ZM2069.6 1490.85H2076.6V1501.34H2069.6ZM2076.6 1490.85H2083.59V1497.85H2076.6ZM2083.59 1494.35H2097.59V1501.34H2083.59ZM2097.59 1490.85H2104.59V1501.34H2097.59ZM2104.59 1494.35H2108.09V1504.84H2104.59ZM2108.09 1490.85H2118.59V1501.34H2108.09Z" fill="#0000ff"/>
<text x="338.0" y="2818.5" font-size="88" letter-spacing="3" text-anchor="middle">10</text>
<text x="593.5" y="2818.5" font-size="88" letter-spacing="3" text-anchor="middle">20</text>
<text x="849.2" y="2818.5" font-size="88" letter-spacing="3" text-anchor="middle">30</text>
<text x="1101.0" y="2818.5" font-size="88" letter-spacing="3" text-anchor="middle">40</text>
<text x="1356.5" y="2818.5" font-size="88" letter-spacing="3" text-anchor="middle">50</text>
<text x="1611.9" y="2818.5" font-size="88" letter-spacing="3" text-anchor="middle">60</text>
<text x="1863.8" y="2818.5" font-size="88" letter-spacing="3" text-anchor="middle">70</text>
<text x="2119.2" y="2818.5" font-size="88" letter-spacing="3" text-anchor="middle">80</text>
<text x="1184" y="2910" font-size="88" letter-spacing="0.6" text-anchor="middle">2θ/(°)</text>
<text transform="translate(77.8 1660.3) rotate(-90)" font-size="89" letter-spacing="0.45" text-anchor="middle">Intensity(a.u.)</text>
<text x="1684.4" y="418.6" font-size="98" letter-spacing="0.85" text-anchor="middle" fill="#ff0000">Unmodified Talc</text>
<text x="1717.6" y="1165" font-size="98" letter-spacing="0.95" text-anchor="middle" fill="#0000ff">Modified Talc</text>
<text x="914" y="1752.7" font-size="89">PDF#19-0770 Mg<tspan font-size="58" dy="24.6" dx="1">3</tspan><tspan dy="-24.6" dx="2">Si</tspan><tspan font-size="58" dy="24.6">4</tspan><tspan dy="-24.6">O</tspan><tspan font-size="58" dy="24.6" dx="2" letter-spacing="1">10</tspan><tspan dy="-24.6" dx="1" letter-spacing="1">(OH)</tspan><tspan font-size="58" dy="24.6" dx="-3.5">2</tspan></text>
<text x="338.75" y="1793.5" font-size="88" letter-spacing="1.5" text-anchor="middle">(002)</text>
<text x="590.45" y="2276.8" font-size="88" letter-spacing="1.5" text-anchor="middle">(020)</text>
<text x="828.75" y="2318.3" font-size="88" letter-spacing="1.5" text-anchor="middle">(006)</text>
<text x="1045.35" y="2392.3" font-size="88" letter-spacing="1.5" text-anchor="middle">(132)</text>
<text x="1608.75" y="2178.7" font-size="88" letter-spacing="1.5" text-anchor="middle">(060)</text>
</svg>
</body></html>
